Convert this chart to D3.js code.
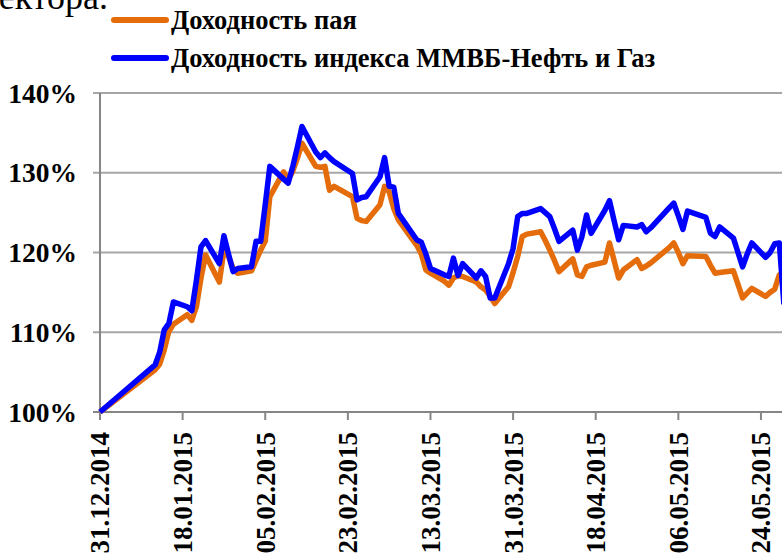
<!DOCTYPE html>
<html>
<head>
<meta charset="utf-8">
<script src="https://cdn.jsdelivr.net/npm/d3@7"></script>
<style>
  body { margin: 0; background: #fff; }
  text { font-family: "Liberation Serif", "Times New Roman", serif; }
</style>
</head>
<body>
<svg id="chart" width="782" height="559"></svg>
<script>
// Даты торговых дней
var dates = ["31.12.2014","12.01.2015","13.01.2015","14.01.2015","15.01.2015","16.01.2015","19.01.2015","20.01.2015","21.01.2015","22.01.2015","23.01.2015","26.01.2015","27.01.2015","28.01.2015","29.01.2015","30.01.2015","02.02.2015","03.02.2015","04.02.2015","05.02.2015","06.02.2015","09.02.2015","10.02.2015","11.02.2015","12.02.2015","13.02.2015","16.02.2015","17.02.2015","18.02.2015","19.02.2015","20.02.2015","24.02.2015","25.02.2015","26.02.2015","27.02.2015","02.03.2015","03.03.2015","04.03.2015","05.03.2015","06.03.2015","10.03.2015","11.03.2015","12.03.2015","13.03.2015","16.03.2015","17.03.2015","18.03.2015","19.03.2015","20.03.2015","23.03.2015","24.03.2015","25.03.2015","26.03.2015","27.03.2015","30.03.2015","31.03.2015","01.04.2015","02.04.2015","03.04.2015","06.04.2015","07.04.2015","08.04.2015","09.04.2015","10.04.2015","13.04.2015","14.04.2015","15.04.2015","16.04.2015","17.04.2015","20.04.2015","21.04.2015","22.04.2015","23.04.2015","24.04.2015","27.04.2015","28.04.2015","29.04.2015","30.04.2015","04.05.2015","05.05.2015","06.05.2015","07.05.2015","08.05.2015","12.05.2015","13.05.2015","14.05.2015","15.05.2015","18.05.2015","19.05.2015","20.05.2015","21.05.2015","22.05.2015","25.05.2015","26.05.2015","27.05.2015","28.05.2015","29.05.2015"];

// Доходность пая, %
var payValues = [100,105.3,106.0,107.8,110.1,111.0,112.2,111.5,113.2,116.8,119.7,116.3,120.3,119.5,118.0,117.4,117.7,119.0,120.3,121.4,127.0,130.1,129.1,130.2,131.8,133.7,130.8,130.7,130.8,127.8,128.3,127.0,124.3,124.0,123.9,126.0,128.3,127.6,125.5,124.1,120.9,119.8,117.8,117.4,116.4,115.9,116.8,117.1,117.0,116.3,115.7,115.3,114.5,113.6,115.7,117.5,119.5,122.0,122.3,122.6,121.5,120.3,119.0,117.6,119.2,117.2,117.0,118.2,118.4,118.8,121.2,119.0,116.8,117.8,119.1,118.0,118.3,118.7,120.6,121.2,120.0,118.6,119.6,119.5,118.4,117.4,117.5,117.7,116.0,114.3,114.9,115.5,114.5,115.0,115.4,117.2,117.5];

// Доходность индекса ММВБ-Нефть и Газ, %
var indexValues = [100,105.9,107.5,110.3,111.1,113.8,113.2,112.7,116.5,120.7,121.5,118.6,122.1,119.8,117.6,118.0,118.2,121.4,121.4,126.0,130.8,129.2,128.7,130.8,133.2,135.8,132.6,131.9,132.5,131.9,131.4,129.9,126.6,126.9,127.0,129.5,131.9,128.3,128.2,124.9,121.6,121.3,119.8,118.0,117.2,117.0,119.3,117.1,118.6,116.8,117.7,117.0,114.3,114.3,118.6,120.5,124.5,124.9,124.9,125.5,125.0,124.5,123.0,121.4,122.8,120.3,122.0,124.7,122.4,125.3,126.5,124.0,121.6,123.4,123.2,123.5,122.6,123.1,125.6,126.2,124.6,122.9,125.2,124.4,122.4,122.0,123.2,121.8,120.0,118.2,119.8,121.2,119.4,120.0,121.1,121.2,113.5];

var xTickLabels = ["31.12.2014","18.01.2015","05.02.2015","23.02.2015","13.03.2015","31.03.2015","18.04.2015","06.05.2015","24.05.2015"];
var yTicks = [100, 110, 120, 130, 140];

var seriesNames = ["Доходность пая", "Доходность индекса ММВБ-Нефть и Газ"];
var seriesColors = ["#E46C0A", "#0000FF"];

var parseDate = d3.timeParse("%d.%m.%Y");

var svg = d3.select("#chart");

// Шкалы
var x = d3.scaleTime()
    .domain([parseDate("31.12.2014"), parseDate("06.06.2015")])
    .range([100, 100 + 157 * 4.59]);

var y = d3.scaleLinear()
    .domain([100, 140])
    .range([412, 93]);

// Хвост текста сверху (обрезан краем)
svg.append("text")
    .attr("x", 108)
    .attr("y", 9)
    .attr("text-anchor", "end")
    .style("font-size", "36px")
    .text("сектора.");

// Сетка
svg.append("g")
    .selectAll("line")
    .data(yTicks)
    .enter().append("line")
    .attr("x1", 93)
    .attr("x2", 800)
    .attr("y1", d => y(d))
    .attr("y2", d => y(d))
    .attr("stroke", d => d === 100 ? "#868686" : "#a6a6a6")
    .attr("stroke-width", 2);

// Ось Y
svg.append("line")
    .attr("x1", 100).attr("x2", 100)
    .attr("y1", y(140)).attr("y2", y(100))
    .attr("stroke", "#868686")
    .attr("stroke-width", 2);

svg.append("g")
    .selectAll("text")
    .data(yTicks)
    .enter().append("text")
    .attr("x", 77)
    .attr("y", d => y(d))
    .attr("dy", "0.35em")
    .attr("text-anchor", "end")
    .style("font-size", "27.5px")
    .style("font-weight", "bold")
    .text(d => d + "%");

// Ось X: засечки и подписи
var xTicks = xTickLabels.map(parseDate);

svg.append("g")
    .selectAll("line")
    .data(xTicks)
    .enter().append("line")
    .attr("x1", d => x(d)).attr("x2", d => x(d))
    .attr("y1", 412).attr("y2", 420)
    .attr("stroke", "#868686")
    .attr("stroke-width", 2);

svg.append("g")
    .selectAll("text")
    .data(xTickLabels)
    .enter().append("text")
    .attr("transform", d => "translate(" + x(parseDate(d)) + ",432) rotate(-90)")
    .attr("dy", "0.35em")
    .attr("text-anchor", "end")
    .style("font-size", "27px")
    .style("font-weight", "bold")
    .text(d => d);

// Линии
var series = [payValues, indexValues];

var line = d3.line()
    .x(d => x(d.date))
    .y(d => y(d.value));

series.forEach(function(values, i) {
    var pts = dates.map((d, j) => ({ date: parseDate(d), value: values[j] }));
    svg.append("path")
        .datum(pts)
        .attr("d", line)
        .attr("fill", "none")
        .attr("stroke", seriesColors[i])
        .attr("stroke-width", 5.5)
        .attr("stroke-linejoin", "round");
});

// Легенда
seriesNames.forEach(function(name, i) {
    var ly = 20 + i * 38;
    svg.append("line")
        .attr("x1", 114).attr("x2", 166)
        .attr("y1", ly).attr("y2", ly)
        .attr("stroke", seriesColors[i])
        .attr("stroke-width", 6)
        .attr("stroke-linecap", "round");
    svg.append("text")
        .attr("x", 171)
        .attr("y", ly)
        .attr("dy", "0.35em")
        .style("font-size", "26.5px")
        .style("font-weight", "bold")
        .text(name);
});
</script>
</body>
</html>
